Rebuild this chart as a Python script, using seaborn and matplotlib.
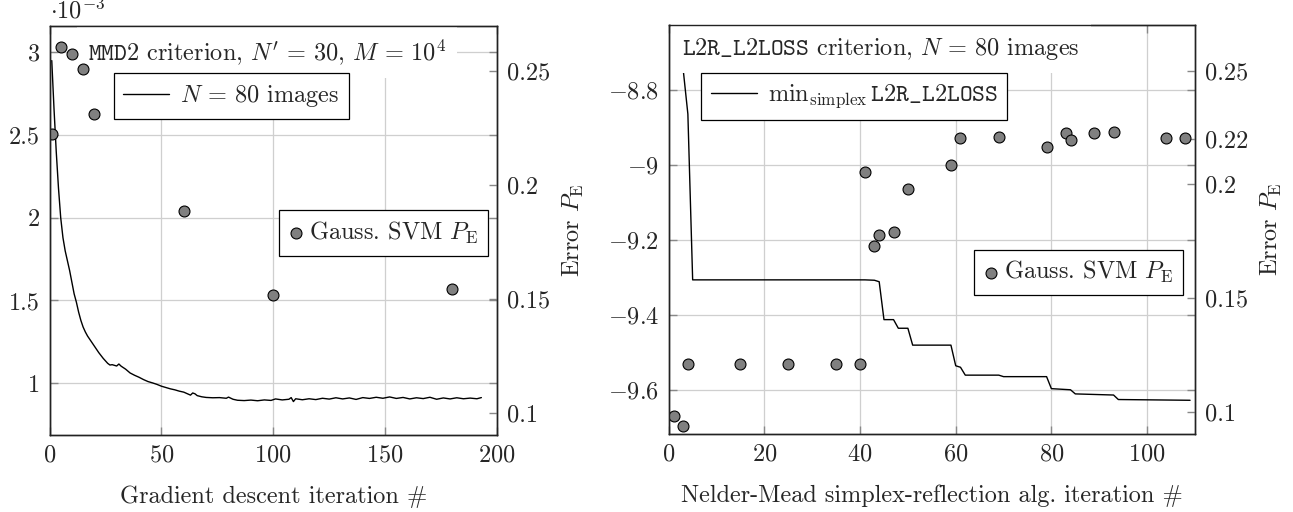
import matplotlib
matplotlib.use("Agg")
import pandas as pd
import matplotlib.pyplot as plt
import seaborn as sns

# Left panel: MMD2 criterion (x 1e-3) along gradient descent
gd_iter = [1, 2, 3, 4, 5, 6, 7, 8, 9, 10, 11, 12, 13, 14, 15, 16, 17, 18, 19, 20,
           22, 24, 26, 27, 28, 29, 30, 31, 32, 34, 36, 38, 40, 42, 44, 46, 48, 50,
           52, 54, 56, 58, 60, 62, 63, 64, 65, 66, 68, 70, 73, 76, 79, 80, 82, 84,
           87, 90, 93, 96, 99, 101, 104, 107, 108, 109, 110, 113, 116, 119, 122,
           125, 128, 131, 134, 137, 140, 143, 146, 149, 152, 155, 158, 161, 164,
           167, 170, 173, 176, 179, 182, 185, 188, 191, 193]
gd_mmd2 = [2.95, 2.66, 2.40, 2.18, 2.00, 1.88, 1.80, 1.74, 1.68, 1.61, 1.54, 1.49,
           1.43, 1.38, 1.34, 1.31, 1.285, 1.265, 1.245, 1.225, 1.185, 1.15, 1.12,
           1.11, 1.112, 1.108, 1.104, 1.116, 1.103, 1.085, 1.062, 1.048, 1.036,
           1.022, 1.010, 1.002, 0.993, 0.982, 0.974, 0.966, 0.960, 0.952, 0.946,
           0.934, 0.928, 0.941, 0.936, 0.925, 0.918, 0.914, 0.912, 0.913, 0.909,
           0.916, 0.903, 0.897, 0.895, 0.898, 0.894, 0.899, 0.896, 0.905, 0.899,
           0.903, 0.913, 0.889, 0.906, 0.900, 0.906, 0.901, 0.909, 0.904, 0.912,
           0.905, 0.911, 0.902, 0.913, 0.908, 0.915, 0.909, 0.917, 0.908, 0.914,
           0.905, 0.912, 0.907, 0.915, 0.903, 0.911, 0.905, 0.912, 0.906, 0.910,
           0.906, 0.913]
gd_svm_iter = [1, 5, 10, 15, 20, 60, 100, 180]
gd_svm_pe = [0.2225, 0.2608, 0.2576, 0.2512, 0.2311, 0.1886, 0.152, 0.1546]

# Right panel: running min of L2R_L2LOSS along Nelder-Mead
nm_iter = [3, 4, 5, 41, 43, 44, 45, 47, 48, 50, 51, 59, 60, 61, 62, 69, 70, 79,
           80, 84, 85, 93, 94, 109]
nm_loss = [-8.744, -8.865, -9.307, -9.307, -9.308, -9.312, -9.413, -9.413,
           -9.436, -9.436, -9.481, -9.481, -9.536, -9.540, -9.561, -9.561,
           -9.565, -9.565, -9.597, -9.600, -9.611, -9.614, -9.626, -9.628]
nm_svm_iter = [1, 3, 4, 15, 25, 35, 40, 41, 43, 44, 47, 50, 59, 61, 69, 79, 83,
               84, 89, 93, 104, 108]
nm_svm_pe = [0.0983, 0.0939, 0.1209, 0.1209, 0.1209, 0.1209, 0.1209, 0.2056,
             0.1729, 0.1777, 0.1789, 0.1978, 0.2084, 0.2205, 0.2208, 0.2166,
             0.2227, 0.2195, 0.2227, 0.2232, 0.2205, 0.2203]

gd_xticks = [0, 50, 100, 150, 200]
gd_yticks = [1, 1.5, 2, 2.5, 3]
gd_yticklabels = ["1", "1.5", "2", "2.5", "3"]
nm_xticks = [0, 20, 40, 60, 80, 100]
nm_yticks = [-9.6, -9.4, -9.2, -9, -8.8]
nm_yticklabels = ["$-9.6$", "$-9.4$", "$-9.2$", "$-9$", "$-8.8$"]
gd_pe_ticks = [0.1, 0.15, 0.2, 0.25]
gd_pe_labels = ["0.1", "0.15", "0.2", "0.25"]
nm_pe_ticks = [0.1, 0.15, 0.2, 0.22, 0.25]
nm_pe_labels = ["0.1", "0.15", "0.2", "0.22", "0.25"]

sns.set_theme(style="whitegrid")
plt.rcParams["font.family"] = ["cmr10", "DejaVu Serif"]
plt.rcParams["mathtext.fontset"] = "cm"
plt.rcParams["axes.formatter.use_mathtext"] = True
FS = 17.5
plt.rcParams["font.size"] = FS

fig = plt.figure(figsize=(12.93, 5.12), dpi=100)
ax_l = fig.add_axes([0.0383, 0.1504, 0.3461, 0.7988])
ax_r = fig.add_axes([0.5172, 0.1530, 0.4069, 0.7975])

DOT = dict(s=62, color="#808080", edgecolor="black", linewidth=0.8, zorder=6)
BOX = dict(facecolor="white", edgecolor="none", pad=8)


def style(ax, ax2):
    for a in (ax, ax2):
        a.set_facecolor("none")
        for sp in a.spines.values():
            sp.set_color("#222222")
            sp.set_linewidth(1.0)
            sp.set_zorder(10)
        a.tick_params(direction="in", length=6, width=1, color="#888888",
                      labelsize=FS, pad=7)
    ax.grid(True, color="#cfcfcf", linewidth=0.9)
    ax2.grid(False)
    ax.tick_params(axis="y", left=True, right=True, labelright=False)
    ax.tick_params(axis="x", bottom=True, top=True, labeltop=False)
    ax2.tick_params(axis="y", right=True, left=False)


# ---- left panel
df_gd = pd.DataFrame({"iter": gd_iter, "mmd2": gd_mmd2})
df_gd_svm = pd.DataFrame({"iter": gd_svm_iter, "pe": gd_svm_pe})
sns.lineplot(data=df_gd, x="iter", y="mmd2", ax=ax_l, color="black",
             linewidth=1.0, estimator=None, label=r"$N\,=\,80$ images",
             legend=False)
ax_l2 = ax_l.twinx()
sns.scatterplot(data=df_gd_svm, x="iter", y="pe", ax=ax_l2,
                label=r"Gauss. SVM $P_\mathrm{E}$", legend=False, **DOT)
ax_l.set_xlim(0, 200)
ax_l.set_ylim(0.687, 3.159)
ax_l.set_xticks(gd_xticks)
ax_l.set_yticks(gd_yticks)
ax_l.set_yticklabels(gd_yticklabels)
ax_l2.set_ylim(0.0904, 0.2699)
ax_l2.set_yticks(gd_pe_ticks)
ax_l2.set_yticklabels(gd_pe_labels)
ax_l.set_xlabel("Gradient descent iteration #", fontsize=FS, labelpad=13.5)
ax_l.set_ylabel("")
ax_l2.set_ylabel(r"Error $P_\mathrm{E}$", fontsize=FS, labelpad=8)
style(ax_l, ax_l2)
ax_l.text(0.0, 1.018, r"$\cdot 10^{-3}$", transform=ax_l.transAxes,
          fontsize=FS, va="baseline", ha="left")
ax_l2.text(0.086, 0.936,
           r"$\mathtt{MMD2}$ criterion, $N'\,=\,30$, $M\,=\,10^4$",
           transform=ax_l2.transAxes, fontsize=FS, va="center", ha="left",
           bbox=BOX, zorder=4)

# ---- right panel
df_nm = pd.DataFrame({"iter": nm_iter, "loss": nm_loss})
df_nm_svm = pd.DataFrame({"iter": nm_svm_iter, "pe": nm_svm_pe})
sns.lineplot(data=df_nm, x="iter", y="loss", ax=ax_r, color="black",
             linewidth=1.0, estimator=None,
             label=r"$\mathrm{min}_{\mathrm{simplex}}\,\mathtt{L2R\_L2LOSS}$",
             legend=False)
ax_r2 = ax_r.twinx()
sns.scatterplot(data=df_nm_svm, x="iter", y="pe", ax=ax_r2,
                label=r"Gauss. SVM $P_\mathrm{E}$", legend=False, **DOT)
ax_r.set_xlim(0, 110)
ax_r.set_ylim(-9.717, -8.6285)
ax_r.set_xticks(nm_xticks)
ax_r.set_yticks(nm_yticks)
ax_r.set_yticklabels(nm_yticklabels)
ax_r2.set_ylim(0.0904, 0.2699)
ax_r2.set_yticks(nm_pe_ticks)
ax_r2.set_yticklabels(nm_pe_labels)
ax_r.set_xlabel("Nelder-Mead simplex-reflection alg. iteration #", fontsize=FS,
                labelpad=13.5)
ax_r.set_ylabel("")
ax_r2.set_ylabel(r"Error $P_\mathrm{E}$", fontsize=FS, labelpad=8)
style(ax_r, ax_r2)
ax_r2.text(0.025, 0.943,
           r"$\mathtt{L2R\_L2LOSS}$ criterion, $N\,=\,80$ images",
           transform=ax_r2.transAxes, fontsize=FS, va="center", ha="left",
           bbox=BOX, zorder=4)

LEG = dict(frameon=True, fancybox=False, edgecolor="black", framealpha=1,
           borderpad=0.4, borderaxespad=0, fontsize=FS)


def add_legends(ax, ax2, line_anchor, dot_anchor):
    h1, l1 = ax.get_legend_handles_labels()
    h2, l2 = ax2.get_legend_handles_labels()
    leg1 = ax2.legend(h1, l1, loc="upper left", bbox_to_anchor=line_anchor,
                      handlelength=1.9, handletextpad=0.45, **LEG)
    leg1.get_frame().set_linewidth(0.9)
    leg1.set_zorder(7)
    ax2.add_artist(leg1)
    leg2 = ax2.legend(h2, l2, loc="upper left", bbox_to_anchor=dot_anchor,
                      handlelength=0.6, handletextpad=0.25, **LEG)
    leg2.get_frame().set_linewidth(0.9)
    leg2.set_zorder(7)


add_legends(ax_l, ax_l2, (0.143, 0.884), (0.512, 0.55))
add_legends(ax_r, ax_r2, (0.061, 0.883), (0.580, 0.451))

fig.savefig("out.png", dpi=100)
